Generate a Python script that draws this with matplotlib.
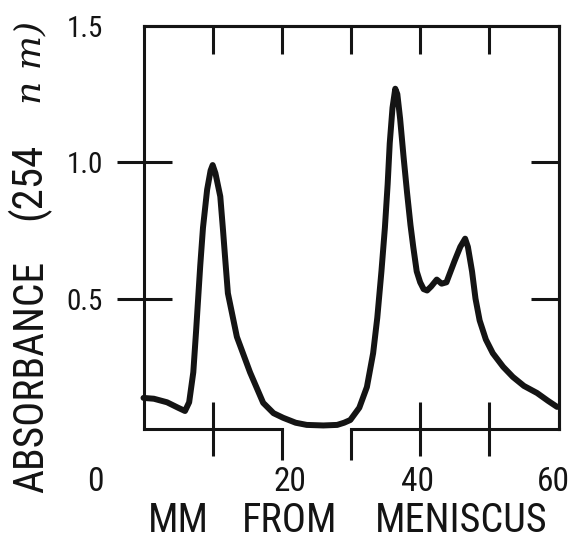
import matplotlib
matplotlib.use("Agg")
import matplotlib.pyplot as plt
import matplotlib.transforms as mtransforms
from matplotlib import font_manager
from matplotlib.font_manager import FontProperties

# ---- data ----
mm = [0, 1.5, 3.4, 5.0, 6.0, 6.6, 7.2, 7.6, 7.9, 8.2, 8.6, 9.2, 9.7, 10.0, 10.4,
      11.1, 11.5, 11.8, 12.2, 13.5, 15.4, 17.3, 18.8, 20.2, 22.0, 23.6, 26.0,
      28.0, 29.0, 29.9, 31.2, 32.3, 33.2, 33.8, 34.4, 34.9, 35.3, 35.6, 36.0,
      36.4, 36.7, 37.1, 37.6, 38.1, 38.6, 39.0, 39.5, 40.0, 40.5, 41.0, 41.6,
      42.4, 43.1, 43.8, 44.4, 45.0, 45.8, 46.5, 46.9, 47.5, 48.0, 48.6, 49.5,
      50.5, 52.0, 53.4, 55.0, 56.9, 58.5, 59.8]
absorbance = [0.136, 0.133, 0.120, 0.100, 0.088, 0.120, 0.230, 0.380, 0.500,
              0.620, 0.760, 0.900, 0.970, 0.990, 0.960, 0.875, 0.750, 0.650,
              0.520, 0.360, 0.230, 0.118, 0.080, 0.063, 0.045, 0.037, 0.035,
              0.037, 0.045, 0.055, 0.100, 0.176, 0.300, 0.430, 0.600, 0.760,
              0.920, 1.070, 1.200, 1.270, 1.250, 1.160, 1.020, 0.890, 0.770,
              0.690, 0.600, 0.560, 0.535, 0.530, 0.545, 0.570, 0.555, 0.560,
              0.600, 0.640, 0.690, 0.720, 0.690, 0.600, 0.500, 0.420, 0.350,
              0.300, 0.250, 0.213, 0.180, 0.154, 0.125, 0.103]

x_major_ticks = [10, 40, 50]
x_minor_ticks = [20, 30]
top_ticks = [10, 20, 30, 40, 50]
y_ticks = [0.5, 1.0, 1.5]
y_tick_labels = ["0.5", "1.0", "1.5"]
right_ticks = [0.5, 1.0]
x_tick_labels = ["0", "20", "40", "60"]
x_label_words = ["MM", "FROM", "MENISCUS"]
y_label_parts = ["ABSORBANCE", "(254"]

# ---- fonts: look for an installed condensed sans face ----
cond_path = None
cond_rank = 99
for f in font_manager.fontManager.ttflist:
    nm = f.name.lower()
    fn = f.fname.lower()
    if f.style != "normal" or f.weight not in (400, "normal", "regular", 500):
        continue
    if "serif" in nm and "sans" not in nm:
        continue
    if "mono" in nm:
        continue
    st = str(f.stretch).lower()
    is_cond = ("narrow" in nm or "condensed" in nm or "narrow" in fn
               or "condensed" in fn or st in ("condensed", "semi-condensed",
                                              "extra-condensed", "ultra-condensed")
               or (isinstance(f.stretch, int) and f.stretch < 500))
    if not is_cond:
        continue
    if "semi" in fn or "semi" in nm or "extra" in fn:
        r = 3
    else:
        r = 1
    if "liberation" in nm or "roboto" in nm or "noto" in nm:
        r -= 0.5
    if r < cond_rank:
        cond_rank = r
        cond_path = f.fname

if cond_path:
    def FP(size):
        return FontProperties(fname=cond_path, size=size)
    scale = 1.0
else:
    def FP(size):
        return FontProperties(family=["Liberation Sans", "DejaVu Sans"], size=size)
    scale = 0.84

INK = "#141414"
W, H = 580, 548
fig = plt.figure(figsize=(W / 100, H / 100), dpi=100)
fig.patch.set_facecolor("white")

L, R, B, T = 143.5, 558.5, 429, 26
ax = fig.add_axes([L / W, 1 - B / H, (R - L) / W, (B - T) / H])
ax.set_xlim(0, 60)
ax.set_ylim(0.022, 1.50)

ax.plot(mm, absorbance, color=INK, lw=4.3, solid_joinstyle="round",
        solid_capstyle="round", clip_on=False, zorder=3)

SPW = 2.2
for s in ["left", "right", "top"]:
    ax.spines[s].set_linewidth(SPW)
    ax.spines[s].set_color(INK)
ax.spines["bottom"].set_visible(False)

# broken bottom axis line
btrans = mtransforms.blended_transform_factory(ax.transData, ax.transAxes)
ax.plot([0, 20], [0, 0], transform=btrans, color=INK, lw=SPW, clip_on=False,
        solid_capstyle="projecting", zorder=4)
ax.plot([30, 60], [0, 0], transform=btrans, color=INK, lw=SPW, clip_on=False,
        solid_capstyle="projecting", zorder=4)

px = 72 / 100  # points per pixel
ax.set_xticks(x_major_ticks)
ax.set_xticks(x_minor_ticks, minor=True)
ax.tick_params(axis="x", which="major", direction="inout", length=54 * px,
               width=SPW, color=INK, labelbottom=False, bottom=True, top=False)
ax.tick_params(axis="x", which="minor", direction="out", length=31 * px,
               width=SPW, color=INK, labelbottom=False, bottom=True, top=False)

ax.set_yticks(y_ticks)
ax.set_yticklabels(y_tick_labels, fontproperties=FP(21 * scale))
ax.tick_params(axis="y", direction="inout", length=55 * px, width=SPW,
               color=INK, labelcolor=INK, pad=13 * px, left=True, right=False)
ax.yaxis.get_major_ticks()[-1].tick1line.set_visible(False)

sx = ax.secondary_xaxis("top")
sx.set_xticks(top_ticks)
sx.tick_params(direction="in", length=28 * px, width=SPW, color=INK,
               labeltop=False)
sx.spines["top"].set_linewidth(SPW)
sx.spines["top"].set_color(INK)

sy = ax.secondary_yaxis("right")
sy.set_yticks(right_ticks)
sy.tick_params(direction="in", length=28 * px, width=SPW, color=INK,
               labelright=False)
sy.spines["right"].set_linewidth(SPW)
sy.spines["right"].set_color(INK)

label_x_px = [95, 290, 418, 553]
for lab, xp in zip(x_tick_labels, label_x_px):
    fig.text(xp / W, 1 - 482 / H, lab, ha="center", va="center",
             fontproperties=FP(24 * scale), color=INK)

word_x_px = [178, 290, 461]
for wd, xp in zip(x_label_words, word_x_px):
    fig.text(xp / W, 1 - 521 / H, wd, ha="center", va="center",
             fontproperties=FP(29 * scale), color=INK)

fig.text(32 / W, 1 - 377 / H, y_label_parts[0], rotation=90, ha="center",
         va="center", fontproperties=FP(30 * scale), color=INK)
fig.text(28 / W, 1 - 181 / H, y_label_parts[1], rotation=90, ha="center",
         va="center", fontproperties=FP(31 * scale), color=INK)
fig.text(30 / W, 1 - 62 / H, "n m)", rotation=90, ha="center", va="center",
         fontsize=26, color=INK, family=["DejaVu Serif"], style="italic")

fig.savefig("out.png", dpi=100, facecolor="white")
